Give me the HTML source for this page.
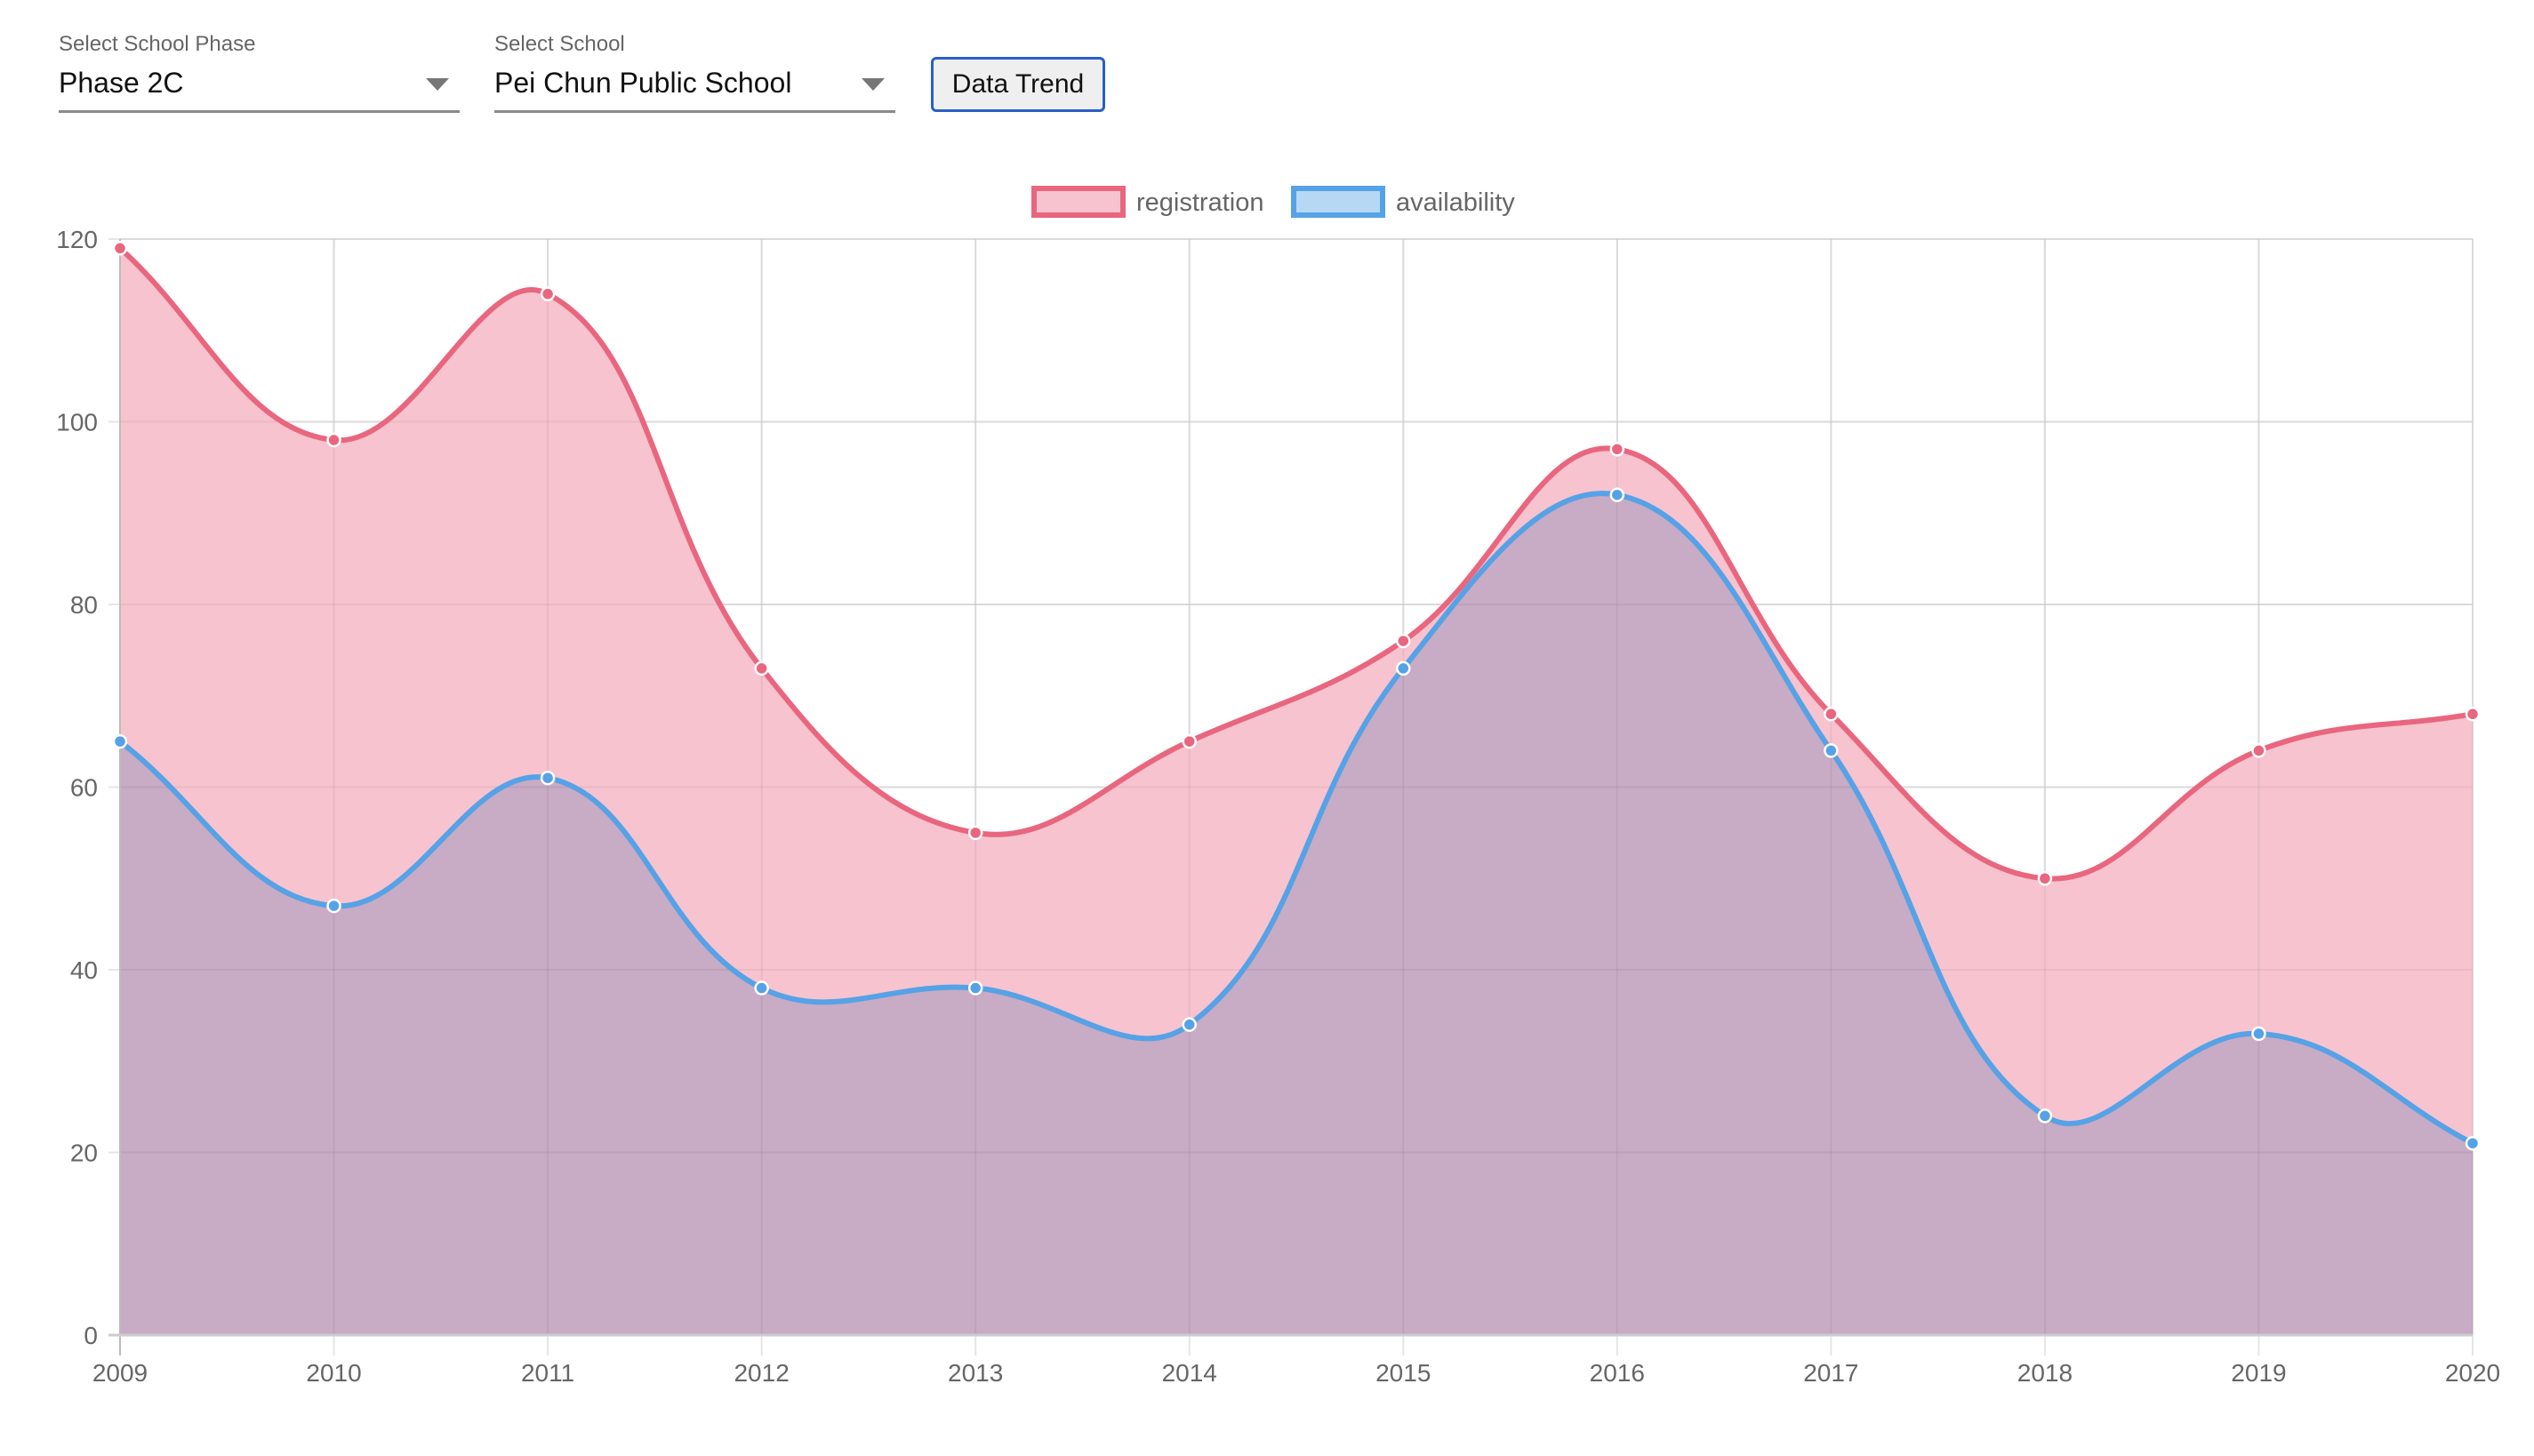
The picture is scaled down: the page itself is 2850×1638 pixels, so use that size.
<!DOCTYPE html>
<html><head><meta charset="utf-8"><style>
body{margin:0;width:2850px;height:1638px;background:#fff;font-family:"Liberation Sans",sans-serif;position:relative;overflow:hidden}
.lab{position:absolute;font-size:24px;color:#666;top:36px}
.sel{position:absolute;top:72px;height:52px;border-bottom:3px solid #8a8a8a;font-size:32px;color:#111;line-height:42px}
.arr{position:absolute;right:12px;top:16px;width:0;height:0;border-left:13px solid transparent;border-right:13px solid transparent;border-top:14px solid #777}
.btn{position:absolute;left:1047px;top:64px;width:190px;height:56px;border:3px solid #2a5fc9;border-radius:6px;background:#efefef;font-size:30px;line-height:56px;text-align:center;color:#111}
</style></head><body>
<div class="lab" style="left:66px">Select School Phase</div>
<div class="sel" style="left:66px;width:451px">Phase 2C<div class="arr"></div></div>
<div class="lab" style="left:556px">Select School</div>
<div class="sel" style="left:556px;width:451px">Pei Chun Public School<div class="arr"></div></div>
<div class="btn">Data Trend</div>
<svg id="c" width="2850" height="1638" style="position:absolute;left:0;top:0"></svg>
<script>
var reg=[119,98,114,73,55,65,76,97,68,50,64,68],av=[65,47,61,38,38,34,73,92,64,24,33,21];
var B=1502,T=269,R=2781;
var X=i=>135+(R-135)/11*i,Y=v=>B-v*((B-T)/120);
function pts(a){return a.map((v,i)=>[X(i),Y(v)])}
function path(p){var t=0.4,cps=[];for(var i=0;i<p.length;i++){var pr=p[i-1]||p[i],c=p[i],n=p[i+1]||p[i];var d01=Math.hypot(c[0]-pr[0],c[1]-pr[1]),d12=Math.hypot(n[0]-c[0],n[1]-c[1]);var s=d01+d12||1;var fa=t*d01/s,fb=t*d12/s;cps.push([[c[0]-fa*(n[0]-pr[0]),Math.min(B,Math.max(T,c[1]-fa*(n[1]-pr[1])))],[c[0]+fb*(n[0]-pr[0]),Math.min(B,Math.max(T,c[1]+fb*(n[1]-pr[1])))]]);}
var d="M"+p[0][0]+","+p[0][1];for(var i=1;i<p.length;i++){var a=cps[i-1][1],b=cps[i][0];d+=" C"+a[0]+","+a[1]+" "+b[0]+","+b[1]+" "+p[i][0]+","+p[i][1];}return d;}
var s="";
for(var k=0;k<=6;k++){var y=Y(k*20);s+=`<line x1="122" x2="${R}" y1="${y}" y2="${y}" stroke="#e6e6e6" stroke-width="2"/><text x="110" y="${y+10}" font-size="28" fill="#666" text-anchor="end">${k*20}</text>`;}
for(var i=0;i<12;i++){var x=X(i);s+=`<line x1="${x}" x2="${x}" y1="${T}" y2="${B+23}" stroke="#e6e6e6" stroke-width="2"/><text x="${x}" y="${B+52}" font-size="28" fill="#666" text-anchor="middle">${2009+i}</text>`;}
var pr=pts(reg),pa=pts(av),dr=path(pr),da=path(pa);
s+=`<path d="${dr} L${R},${B} L135,${B}Z" fill="#f6c3cf"/>`;
s+=`<path d="${da} L${R},${B} L135,${B}Z" fill="#c8abc5"/>`;
for(var k=1;k<=6;k++){var y=Y(k*20);s+=`<line x1="135" x2="${R}" y1="${y}" y2="${y}" stroke="#000" stroke-opacity="0.05" stroke-width="2"/>`;}
for(var i=1;i<12;i++){var x=X(i);s+=`<line x1="${x}" x2="${x}" y1="${T}" y2="${B}" stroke="#000" stroke-opacity="0.05" stroke-width="2"/>`;}
s+=`<line x1="135" x2="135" y1="${T}" y2="${B+23}" stroke="#bbb" stroke-width="2"/><line x1="122" x2="${R}" y1="${B}" y2="${B}" stroke="#ccc" stroke-width="3"/>`;
s+=`<path d="${da}" fill="none" stroke="#56a2e6" stroke-width="6"/>`;
s+=`<path d="${dr}" fill="none" stroke="#e9667f" stroke-width="6"/>`;
pa.forEach(p=>s+=`<circle cx="${p[0]}" cy="${p[1]}" r="7" fill="#56a2e6" stroke="#fff" stroke-width="2.5"/>`);
pr.forEach(p=>s+=`<circle cx="${p[0]}" cy="${p[1]}" r="7" fill="#e9667f" stroke="#fff" stroke-width="2.5"/>`);
s+=`<rect x="1163" y="212" width="100" height="30" fill="#f6c3cf" stroke="#e9667f" stroke-width="6"/><text x="1278" y="237" font-size="29" fill="#666">registration</text>`;
s+=`<rect x="1455" y="212" width="100" height="30" fill="#b6d8f5" stroke="#56a2e6" stroke-width="6"/><text x="1570" y="237" font-size="29" fill="#666">availability</text>`;
document.getElementById("c").innerHTML=s;
</script>
</body></html>
